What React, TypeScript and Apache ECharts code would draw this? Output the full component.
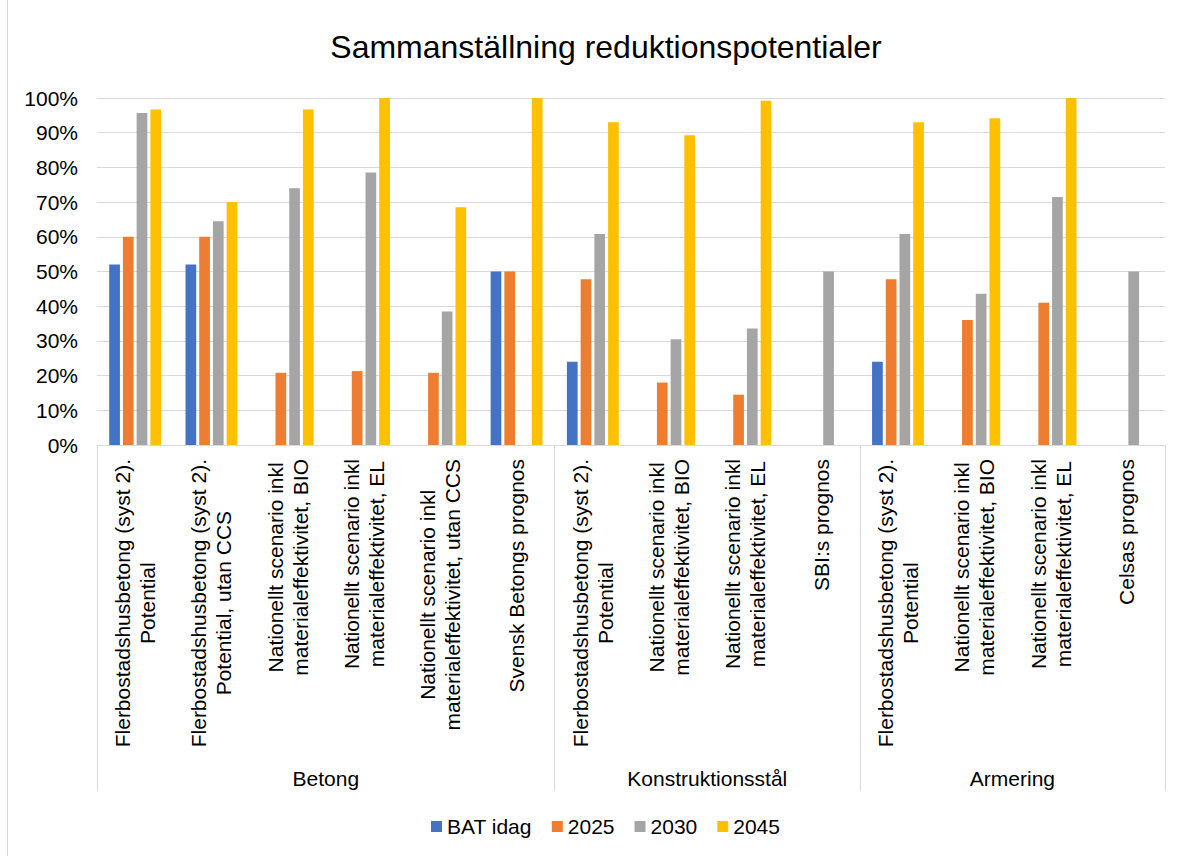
import React, { useEffect, useRef } from "react";
import * as echarts from "echarts";

const categories: string[] = [
  "Flerbostadshusbetong (syst 2).\nPotential",
  "Flerbostadshusbetong (syst 2).\nPotential, utan CCS",
  "Nationellt scenario inkl\nmaterialeffektivitet, BIO",
  "Nationellt scenario inkl\nmaterialeffektivitet, EL",
  "Nationellt scenario inkl\nmaterialeffektivitet, utan CCS",
  "Svensk Betongs prognos",
  "Flerbostadshusbetong (syst 2).\nPotential",
  "Nationellt scenario inkl\nmaterialeffektivitet, BIO",
  "Nationellt scenario inkl\nmaterialeffektivitet, EL",
  "SBI:s prognos",
  "Flerbostadshusbetong (syst 2).\nPotential",
  "Nationellt scenario inkl\nmaterialeffektivitet, BIO",
  "Nationellt scenario inkl\nmaterialeffektivitet, EL",
  "Celsas prognos",
];

const groupNames: string[] = ["Betong", "Konstruktionsstål", "Armering"];
const groupSizes: number[] = [6, 4, 4];

const seriesNames: string[] = ["BAT idag", "2025", "2030", "2045"];
const seriesColors: string[] = ["#4472C4", "#ED7D31", "#A5A5A5", "#FFC000"];

const batIdag: (number | null)[] = [52, 52, null, null, null, 50, 24, null, null, null, 24, null, null, null];
const y2025: (number | null)[] = [60, 60, 20.8, 21.3, 20.8, 50, 47.8, 18, 14.5, null, 47.8, 36, 41, null];
const y2030: (number | null)[] = [95.7, 64.5, 74, 78.5, 38.5, null, 60.8, 30.5, 33.6, 50, 60.8, 43.6, 71.5, 50];
const y2045: (number | null)[] = [96.7, 70, 96.7, 100, 68.5, 100, 93, 89.3, 99.2, null, 93, 94.2, 100, null];

const yTicks = { min: 0, max: 100, interval: 10 };

const FONT = "Liberation Sans, Arial, sans-serif";

export default function App() {
  const ref = useRef<HTMLDivElement>(null);

  useEffect(() => {
    if (!ref.current) return;
    const chart = echarts.init(ref.current, undefined, { renderer: "svg" });

    // Half-step axis for the group level
    const halfCount = categories.length * 2;
    const groupAxisData: string[] = new Array(halfCount + 1).fill("");
    const boundaryIdx = new Set<number>([0]);
    const labelIdx = new Set<number>();
    let acc = 0;
    groupSizes.forEach((size, i) => {
      const center = acc * 2 + size;
      groupAxisData[center] = groupNames[i];
      labelIdx.add(center);
      acc += size;
      boundaryIdx.add(acc * 2);
    });

    const allData = [batIdag, y2025, y2030, y2045];

    chart.setOption({
      animation: false,
      textStyle: { fontFamily: FONT },
      title: {
        text: "Sammanställning reduktionspotentialer",
        left: 601,
        textAlign: "center",
        top: 26,
        textStyle: { fontSize: 32, fontWeight: "normal", color: "#000", fontFamily: FONT },
      },
      legend: {
        left: 426,
        top: 811,
        icon: "rect",
        itemWidth: 11,
        itemHeight: 11,
        itemGap: 20,
        textStyle: { fontSize: 21, color: "#000", fontFamily: FONT },
        data: seriesNames,
      },
      grid: { left: 97, right: 23, top: 98, bottom: 411, containLabel: false },
      xAxis: [
        {
          type: "category",
          data: categories,
          position: "bottom",
          axisLine: { show: true, lineStyle: { color: "#D9D9D9", width: 1 } },
          axisTick: { show: false },
          axisLabel: {
            interval: 0,
            rotate: 90,
            margin: 14,
            color: "#000",
            fontSize: 21,
            lineHeight: 25,
            fontFamily: FONT,
            formatter: (v: string) =>
              v
                .split("\n")
                .map((l) => `{c|${l}}`)
                .join("\n"),
            rich: {
              c: { align: "center", fontSize: 21, lineHeight: 25, color: "#000", fontFamily: FONT },
            },
          },
        },
        {
          type: "category",
          data: groupAxisData,
          boundaryGap: false,
          position: "bottom",
          axisLine: { show: false },
          axisTick: {
            show: true,
            length: 346,
            interval: (idx: number) => boundaryIdx.has(idx),
            lineStyle: { color: "#D9D9D9", width: 1 },
          },
          axisLabel: {
            interval: (idx: number) => labelIdx.has(idx),
            margin: 323,
            color: "#000",
            fontSize: 21,
            fontFamily: FONT,
          },
          splitLine: { show: false },
        },
      ],
      yAxis: {
        type: "value",
        min: yTicks.min,
        max: yTicks.max,
        interval: yTicks.interval,
        axisLine: { show: false },
        axisTick: { show: false },
        axisLabel: {
          formatter: "{value}%",
          fontSize: 21,
          color: "#000",
          margin: 19,
          fontFamily: FONT,
        },
        splitLine: { lineStyle: { color: "#D9D9D9", width: 1 } },
      },
      graphic: [
        {
          type: "line",
          shape: { x1: 7.5, y1: 0, x2: 7.5, y2: 856 },
          style: { stroke: "#D9D9D9", lineWidth: 1 },
          silent: true,
        },
      ],
      series: seriesNames.map((name, i) => ({
        name,
        type: "bar",
        xAxisIndex: 0,
        data: allData[i],
        barGap: "28%",
        barCategoryGap: "32%",
        itemStyle: { color: seriesColors[i] },
      })),
    });

    return () => chart.dispose();
  }, []);

  return (
    <div
      ref={ref}
      style={{ position: "absolute", left: 0, top: 0, width: 1188, height: 856, background: "#fff" }}
    />
  );
}
